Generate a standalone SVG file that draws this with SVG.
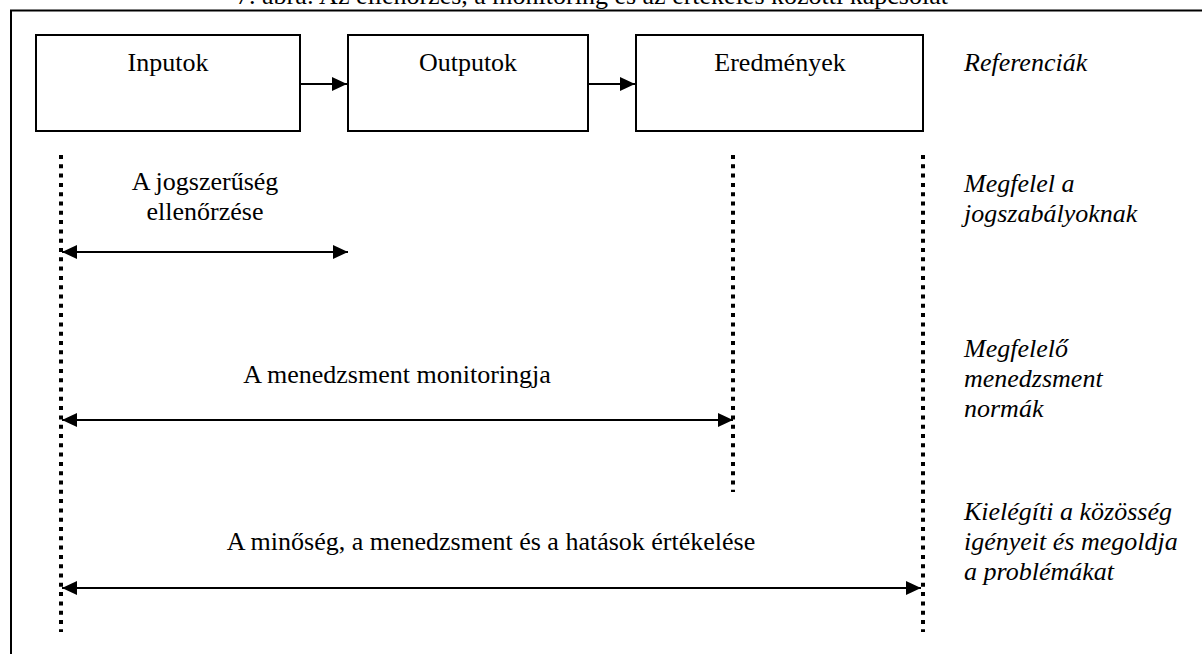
<svg xmlns="http://www.w3.org/2000/svg" width="1202" height="654" viewBox="0 0 1202 654" font-family="'Liberation Serif', 'Times New Roman', serif">
<defs>
<style>
text{font-family:"Liberation Serif","Times New Roman",serif;font-size:26px;fill:#000}
.c{text-anchor:middle}
.i{font-style:italic}
.box{fill:#fff;stroke:#000;stroke-width:2}
.ln{stroke:#000;stroke-width:2;fill:none}
.dot{stroke:#000;stroke-width:4;stroke-dasharray:4 5.3;fill:none}
</style>
<marker id="ah" markerUnits="userSpaceOnUse" markerWidth="16" markerHeight="14" refX="15" refY="7" orient="auto-start-reverse">
<path d="M0,0 L15,7 L0,14 Z" fill="#000"/>
</marker>
</defs>
<rect width="1202" height="654" fill="#fff"/>
<text class="c" x="592" y="4">7. ábra: Az ellenőrzés, a monitoring és az értékelés közötti kapcsolat</text>
<rect x="11" y="10.5" width="1220" height="700" fill="none" stroke="#000" stroke-width="2"/>
<g id="inputok"><rect class="box" x="36" y="35" width="264" height="96"/><text class="c" x="168" y="71">Inputok</text></g>
<g id="outputok"><rect class="box" x="348" y="35" width="240" height="96"/><text class="c" x="468" y="71">Outputok</text></g>
<g id="eredmenyek"><rect class="box" x="636" y="35" width="287" height="96"/><text class="c" x="780" y="71">Eredmények</text></g>
<g id="referenciak"><text class="i" x="964" y="71">Referenciák</text></g>
<g id="dotted">
<line class="dot" x1="61" y1="155" x2="61" y2="632"/>
<line class="dot" x1="733" y1="155" x2="733" y2="492"/>
<line class="dot" x1="923" y1="155" x2="923" y2="632"/>
</g>
<g id="connectors">
<line class="ln" x1="300" y1="84" x2="347" y2="84" marker-end="url(#ah)"/>
<line class="ln" x1="588" y1="84" x2="635" y2="84" marker-end="url(#ah)"/>
<line class="ln" x1="62" y1="252" x2="348" y2="252" marker-start="url(#ah)" marker-end="url(#ah)"/>
<line class="ln" x1="62" y1="420" x2="733" y2="420" marker-start="url(#ah)" marker-end="url(#ah)"/>
<line class="ln" x1="62" y1="588" x2="921" y2="588" marker-start="url(#ah)" marker-end="url(#ah)"/>
</g>
<g id="jogszeruseg"><text class="c" x="205" y="190">A jogszerűség</text><text class="c" x="205" y="220">ellenőrzése</text></g>
<g id="monitoring"><text class="c" x="397" y="383">A menedzsment monitoringja</text></g>
<g id="ertekeles"><text class="c" x="491" y="550">A minőség, a menedzsment és a hatások értékelése</text></g>
<g id="ref1"><text class="i" x="964" y="192">Megfelel a</text><text class="i" x="964" y="222">jogszabályoknak</text></g>
<g id="ref2"><text class="i" x="964" y="357">Megfelelő</text><text class="i" x="964" y="387">menedzsment</text><text class="i" x="964" y="417">normák</text></g>
<g id="ref3"><text class="i" x="964" y="520">Kielégíti a közösség</text><text class="i" x="964" y="550">igényeit és megoldja</text><text class="i" x="964" y="580">a problémákat</text></g>
</svg>
